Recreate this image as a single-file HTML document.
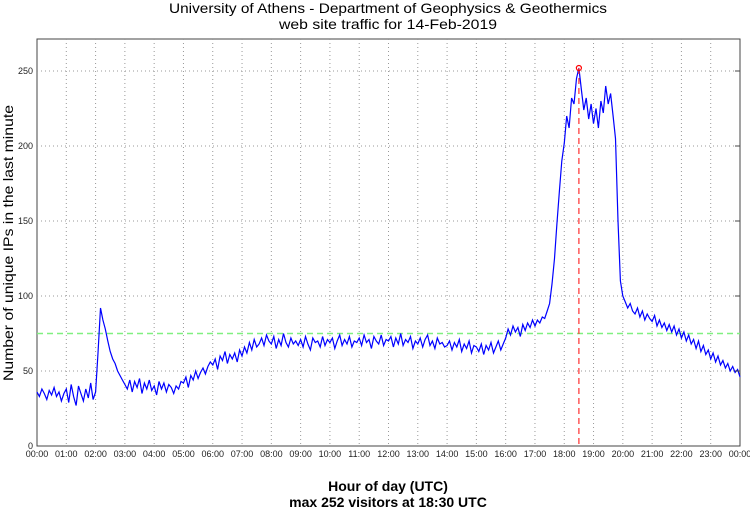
<!DOCTYPE html>
<html><head><meta charset="utf-8"><style>
body{margin:0;background:#fff;width:750px;height:511px;overflow:hidden;font-family:"Liberation Sans",sans-serif}
text{font-family:"Liberation Sans",sans-serif}
</style></head><body>
<svg id="chart" width="750" height="511" xmlns="http://www.w3.org/2000/svg">
<text x="388" y="13" font-size="14" text-anchor="middle" textLength="438" lengthAdjust="spacingAndGlyphs">University of Athens - Department of Geophysics &amp; Geothermics</text>
<text x="388" y="29" font-size="14" text-anchor="middle" textLength="218" lengthAdjust="spacingAndGlyphs">web site traffic for 14-Feb-2019</text>
<text transform="translate(13,243) rotate(-90)" font-size="14" text-anchor="middle" textLength="276" lengthAdjust="spacingAndGlyphs">Number of unique IPs in the last minute</text>
<text x="388" y="491" font-size="14" font-weight="bold" text-anchor="middle">Hour of day (UTC)</text>
<text x="388" y="507" font-size="14" font-weight="bold" text-anchor="middle">max 252 visitors at 18:30 UTC</text>
<g id="grid"></g><g id="series"></g><g id="axes"></g>
</svg>
<script>
const yTicks=[0,50,100,150,200,250];
const xHours=["00:00","01:00","02:00","03:00","04:00","05:00","06:00","07:00","08:00","09:00","10:00","11:00","12:00","13:00","14:00","15:00","16:00","17:00","18:00","19:00","20:00","21:00","22:00","23:00","00:00"];
// visitors sampled every 5 minutes, 00:00 .. 24:00
const visitors=[
36,33,38,35,31,37,34,39,33,36,30,35,
38,29,41,33,27,40,35,30,38,32,42,31,
36,62,92,84,78,70,63,58,55,50,47,44,
41,38,44,36,43,39,45,35,42,38,44,37,
40,34,43,38,42,36,41,39,35,40,38,43,
42,46,39,47,44,50,45,49,52,48,53,56,
54,58,51,60,57,63,55,61,58,62,56,64,
60,66,62,69,64,71,66,68,72,67,74,70,
68,73,65,71,67,75,69,66,72,68,70,67,
71,66,73,68,64,72,69,70,66,73,67,71,
69,72,65,70,74,67,71,68,73,66,70,69,
72,67,74,69,71,65,73,70,68,74,67,71,
70,73,66,72,68,75,67,71,69,73,65,70,
68,72,66,71,74,67,70,65,72,68,69,66,
67,70,64,69,66,71,63,68,65,70,62,67,
66,63,68,61,67,64,69,62,66,70,64,68,
72,78,74,80,76,79,73,81,77,82,79,84,
80,84,82,86,85,90,95,108,125,148,170,190,
202,220,212,232,228,245,252,238,224,232,218,228,
215,225,212,230,222,240,228,235,220,205,150,110,
100,96,92,95,90,88,92,86,90,84,88,85,
83,87,80,84,79,82,77,81,76,80,74,78,
72,76,70,74,68,71,65,70,63,67,61,64,
58,62,56,60,54,57,52,55,50,53,49,51,
46];
const maxIndex=222; // 18:30
const refLevel=75;

const NS="http://www.w3.org/2000/svg";
const X0=37,X1=740,Y0=446,YT=39;
const xs=h=>X0+(X1-X0)*h/24;
const ys=v=>Y0-v*1.5;
const grid=document.getElementById('grid'),axes=document.getElementById('axes'),ser=document.getElementById('series');
function mk(tag,attrs,parent){const e=document.createElementNS(NS,tag);for(const k in attrs)e.setAttribute(k,attrs[k]);parent.appendChild(e);return e;}
const bg=mk('rect',{x:X0,y:YT,width:X1-X0,height:Y0-YT,fill:'#fff',stroke:'#444','stroke-width':1},grid);


xHours.forEach((lab,i)=>{
  const x=xs(i);
  if(i>0&&i<24){const g=mk('line',{x1:x,x2:x,y1:YT,y2:Y0,stroke:'#999','stroke-dasharray':'1,3','stroke-width':1},grid);
  
  }
  const t=mk('text',{x:x,y:457,'font-size':9,'text-anchor':'middle',fill:'#222'},axes);t.textContent=lab;
  
  
});
yTicks.forEach(v=>{
  const y=ys(v);
  if(v>0){const g=mk('line',{x1:X0,x2:X1,y1:y,y2:y,stroke:'#999','stroke-dasharray':'1,3','stroke-width':1},grid);
  
  
  mk('line',{x1:X1-5,x2:X1,y1:y,y2:y,stroke:'#444'},axes);}
  const t=mk('text',{x:X0-4,y:y+3,'font-size':9,'text-anchor':'end',fill:'#222'},axes);t.textContent=v;
  
  
});
const ref=mk('line',{x1:X0,x2:X1,y1:ys(refLevel),y2:ys(refLevel),stroke:'#80f080','stroke-width':1.5,'stroke-dasharray':'6,4'},ser);


const pts=visitors.map((v,i)=>xs(i/12).toFixed(1)+','+ys(v).toFixed(1)).join(' ');
const pl=mk('polyline',{points:pts,fill:'none',stroke:'#0000ff','stroke-width':1.2},ser);


const mx=xs(maxIndex/12),my=ys(visitors[maxIndex]);
const vl=mk('line',{x1:mx,x2:mx,y1:my,y2:Y0,stroke:'#ff3030','stroke-width':1.2,'stroke-dasharray':'6,4'},ser);


const mc=mk('circle',{cx:mx,cy:my,r:2.5,fill:'none',stroke:'#ff0000','stroke-width':1.2},ser);


</script>
</body></html>
